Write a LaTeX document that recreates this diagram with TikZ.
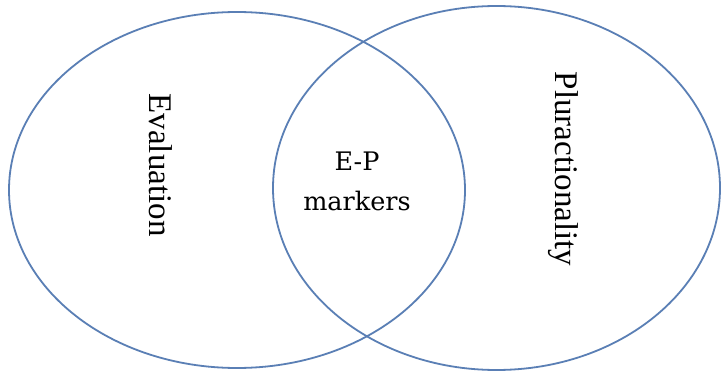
\documentclass[tikz,border=0pt]{standalone}
\usepackage{fontspec}
\setmainfont{Liberation Serif}
\newfontfamily\epfont{DejaVu Serif}
\definecolor{venn}{HTML}{5A7FB5}
\begin{document}
\begin{tikzpicture}[x=1pt,y=-1pt,
  ring/.style={draw=venn, line width=1.8pt},
  sidelabel/.style={rotate=-90, font=\fontsize{33}{40}\selectfont, inner sep=0pt},
  midlabel/.style={align=center, font=\epfont\fontsize{25.5}{40}\selectfont, inner sep=0pt}]
\useasboundingbox[fill=white] (0,0) rectangle (722,374);
\draw[ring] (237,190) ellipse [x radius=228, y radius=178];
\draw[ring] (496.5,188) ellipse [x radius=223.5, y radius=182];
\node[sidelabel] (eval) at (161,165) {Evaluation};
\node[sidelabel] (plur) at (563,169) {Pluractionality};
\node[midlabel] (ep) at (357,181) {E-P\\markers};
\end{tikzpicture}
\end{document}
